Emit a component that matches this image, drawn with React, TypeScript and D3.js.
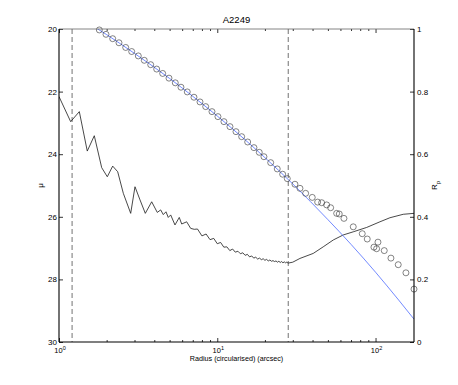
import React, { useEffect, useRef } from "react";
import * as d3 from "d3";

// surface brightness (circles), radius in arcsec
const muRadius = [
  1.798, 1.981, 2.184, 2.393, 2.639, 2.879, 3.17, 3.458, 3.796, 4.142, 4.52, 4.954,
  5.429, 5.897, 6.463, 7.126, 7.777, 8.45, 9.26, 10.1, 11.02, 12.03, 13.13, 14.26,
  15.56, 17.05, 18.42, 19.72, 21.75, 23.93, 25.89, 27.69, 30.96, 33.3, 36.17, 39.82,
  43.08, 45.66, 49.11, 52.05, 56.81, 58.99, 63.15, 72.3, 82.41, 88.63, 97.7, 101.6,
  103.6, 113.5, 125.1, 139.1, 155.6, 175
];
const muValue = [
  20.03, 20.17, 20.31, 20.44, 20.59, 20.72, 20.86, 21.0, 21.14, 21.28, 21.42, 21.57,
  21.72, 21.86, 22.01, 22.18, 22.33, 22.48, 22.64, 22.8, 22.96, 23.12, 23.28, 23.44,
  23.61, 23.79, 23.94, 24.08, 24.27, 24.47, 24.64, 24.78, 24.96, 25.09, 25.25, 25.38,
  25.53, 25.55, 25.62, 25.71, 25.89, 25.91, 26.05, 26.32, 26.54, 26.71, 26.97, 27.02,
  26.81, 27.08, 27.32, 27.53, 27.79, 28.31
];

// fitted profile (blue)
const fitRadius = [1, 1.5, 2, 3, 5, 7, 10, 15, 20, 30, 50, 70, 100, 140, 175];
const fitMu = [19.24, 19.78, 20.18, 20.78, 21.58, 22.15, 22.78, 23.54, 24.11, 24.95, 26.09, 26.88, 27.77, 28.66, 29.27];

// R_p (black line, right axis)
const rpRadius = [
  1.0, 1.185, 1.344, 1.509, 1.671, 1.861, 2.019, 2.184, 2.349, 2.549, 2.838, 3.021,
  3.25, 3.51, 3.852, 4.178, 4.39, 4.56, 4.742, 4.903, 5.077, 5.405, 5.754, 5.958,
  6.408, 6.792, 7.157, 7.5, 8, 8.5, 9, 9.5, 10, 10.5, 11, 11.5, 12, 12.5, 13, 13.5,
  14, 14.5, 15, 15.5, 16, 16.5, 17, 17.5, 18, 18.5, 19, 19.5, 20, 20.5, 21, 21.5,
  22, 22.5, 23, 23.5, 24, 24.5, 25, 25.5, 26, 26.5, 27, 27.5, 28, 30, 33.3, 40.4,
  46.7, 54.1, 62.5, 72.3, 87.9, 106.6, 123.3, 149.6, 175
];
const rpValue = [
  0.784, 0.704, 0.736, 0.61, 0.659, 0.557, 0.528, 0.562, 0.544, 0.475, 0.411, 0.496,
  0.454, 0.411, 0.448, 0.414, 0.422, 0.407, 0.416, 0.398, 0.406, 0.374, 0.398, 0.377,
  0.384, 0.363, 0.36, 0.361, 0.339, 0.345, 0.327, 0.331, 0.314, 0.318, 0.303, 0.304,
  0.292, 0.297, 0.287, 0.29, 0.282, 0.285, 0.277, 0.28, 0.272, 0.275, 0.268, 0.271,
  0.265, 0.268, 0.263, 0.266, 0.261, 0.264, 0.259, 0.262, 0.258, 0.26, 0.257, 0.259,
  0.255, 0.258, 0.254, 0.257, 0.253, 0.256, 0.253, 0.255, 0.252, 0.255, 0.267, 0.283,
  0.304, 0.326, 0.342, 0.352, 0.366, 0.384, 0.397, 0.408, 0.411
];

const cutRadius = [1.21, 28.1];
const muTicks = [20, 22, 24, 26, 28, 30];
const rpTicks = [0, 0.2, 0.4, 0.6, 0.8, 1];
const radiusTicks = [1, 10, 100];
const radiusMinor = [2, 3, 4, 5, 6, 7, 8, 9, 20, 30, 40, 50, 60, 70, 80, 90];

export default function App() {
  const ref = useRef<SVGSVGElement>(null);

  useEffect(() => {
    document.body.style.margin = "0";
    const svg = d3.select(ref.current);
    svg.selectAll("*").remove();

    const W = 458;
    const H = 385;
    const margin = { top: 29, right: 44, bottom: 43, left: 59 };
    const x0 = margin.left;
    const x1 = W - margin.right;
    const y0 = margin.top;
    const y1 = H - margin.bottom;
    const font = "'Liberation Sans', Arial, Helvetica, sans-serif";

    const x = d3.scaleLog().domain([1, 175]).range([x0, x1]);
    const yMu = d3.scaleLinear().domain([20, 30]).range([y0, y1]);
    const yRp = d3.scaleLinear().domain([0, 1]).range([y1, y0]);

    svg.append("defs").append("clipPath").attr("id", "plotclip")
      .append("rect").attr("x", x0).attr("y", y0).attr("width", x1 - x0).attr("height", y1 - y0);

    // dashed radius markers
    svg.selectAll("line.cut")
      .data(cutRadius)
      .enter()
      .append("line")
      .attr("class", "cut")
      .attr("x1", (d) => x(d)).attr("x2", (d) => x(d))
      .attr("y1", y0).attr("y2", y1)
      .attr("stroke", "#8a8a8a")
      .attr("stroke-width", 1.2)
      .attr("stroke-dasharray", "5,3");

    const plot = svg.append("g").attr("clip-path", "url(#plotclip)");

    // black R_p line
    const rpLine = d3.line<number>()
      .x((d, i) => x(rpRadius[i]))
      .y((d) => yRp(d));
    plot.append("path")
      .datum(rpValue)
      .attr("fill", "none")
      .attr("stroke", "#1a1a1a")
      .attr("stroke-width", 0.8)
      .attr("d", rpLine);

    // blue fit
    const fitLine = d3.line<number>()
      .x((d, i) => x(fitRadius[i]))
      .y((d) => yMu(d))
      .curve(d3.curveMonotoneX);
    plot.append("path")
      .datum(fitMu)
      .attr("fill", "none")
      .attr("stroke", "#4f6cff")
      .attr("stroke-width", 0.8)
      .attr("d", fitLine);

    // circles
    svg.selectAll("circle.mu")
      .data(muValue)
      .enter()
      .append("circle")
      .attr("class", "mu")
      .attr("cx", (d, i) => x(muRadius[i]))
      .attr("cy", (d) => yMu(d))
      .attr("r", 3)
      .attr("fill", "none")
      .attr("stroke", "#333")
      .attr("stroke-width", 0.6);

    const styleAxis = (g: any, size: number) => {
      g.select(".domain").remove();
      g.attr("font-family", font).attr("font-size", size);
      g.selectAll("line").attr("stroke", "#000").attr("stroke-width", 0.8);
      g.selectAll("text").attr("fill", "#000");
    };

    // left axis (mu)
    svg.append("g")
      .attr("transform", `translate(${x0},0)`)
      .call(d3.axisLeft(yMu).tickValues(muTicks).tickSize(-4).tickPadding(2).tickFormat((d) => String(d)))
      .call((g) => styleAxis(g, 8));

    // right axis (R_p)
    svg.append("g")
      .attr("transform", `translate(${x1},0)`)
      .call(d3.axisRight(yRp).tickValues(rpTicks).tickSize(-4).tickPadding(3).tickFormat((d) => String(d)))
      .call((g) => styleAxis(g, 8));

    // bottom / top axes
    svg.append("g")
      .attr("transform", `translate(0,${y1})`)
      .call(d3.axisBottom(x).tickValues(radiusTicks).tickSize(-4).tickFormat(() => ""))
      .call((g) => styleAxis(g, 8));
    svg.append("g")
      .attr("transform", `translate(0,${y1})`)
      .call(d3.axisBottom(x).tickValues(radiusMinor).tickSize(-2).tickFormat(() => ""))
      .call((g) => styleAxis(g, 8));
    svg.append("g")
      .attr("transform", `translate(0,${y0})`)
      .call(d3.axisTop(x).tickValues(radiusTicks).tickSize(-4).tickFormat(() => ""))
      .call((g) => styleAxis(g, 8));
    svg.append("g")
      .attr("transform", `translate(0,${y0})`)
      .call(d3.axisTop(x).tickValues(radiusMinor).tickSize(-2).tickFormat(() => ""))
      .call((g) => styleAxis(g, 8));

    // power-of-ten labels
    const labels = svg.append("g").attr("font-family", font).attr("font-size", 7.5);
    radiusTicks.forEach((t) => {
      const txt = labels.append("text")
        .attr("x", x(t) + 1)
        .attr("y", y1 + 11)
        .attr("text-anchor", "middle");
      txt.append("tspan").text("10");
      txt.append("tspan").attr("dy", -3).attr("font-size", 5.5).text(String(Math.round(Math.log10(t))));
    });

    // frame
    svg.append("line").attr("x1", x0).attr("x2", x1).attr("y1", y0).attr("y2", y0)
      .attr("stroke", "#666").attr("stroke-width", 0.8);
    svg.append("line").attr("x1", x0).attr("x2", x1).attr("y1", y1).attr("y2", y1)
      .attr("stroke", "#000").attr("stroke-width", 1.1);
    svg.append("line").attr("x1", x0).attr("x2", x0).attr("y1", y0).attr("y2", y1)
      .attr("stroke", "#000").attr("stroke-width", 1.1);
    svg.append("line").attr("x1", x1).attr("x2", x1).attr("y1", y0).attr("y2", y1)
      .attr("stroke", "#000").attr("stroke-width", 1.1);

    // titles
    svg.append("text")
      .attr("x", (x0 + x1) / 2).attr("y", 22.5)
      .attr("text-anchor", "middle")
      .attr("font-family", font).attr("font-size", 9.5)
      .text("A2249");
    svg.append("text")
      .attr("x", (x0 + x1) / 2).attr("y", 361)
      .attr("text-anchor", "middle")
      .attr("font-family", font).attr("font-size", 7.2)
      .text("Radius (circularised) (arcsec)");
    svg.append("text")
      .attr("transform", `translate(43,${(y0 + y1) / 2}) rotate(-90)`)
      .attr("text-anchor", "middle")
      .attr("font-family", font).attr("font-size", 8)
      .text("μ");
    const rl = svg.append("text")
      .attr("transform", `translate(437,${(y0 + y1) / 2}) rotate(-90)`)
      .attr("text-anchor", "middle")
      .attr("font-family", font).attr("font-size", 8);
    rl.append("tspan").text("R");
    rl.append("tspan").attr("dy", 2.5).attr("font-size", 6).text("p");
  }, []);

  return <svg ref={ref} width={458} height={385} style={{ display: "block", background: "#fff" }} />;
}
